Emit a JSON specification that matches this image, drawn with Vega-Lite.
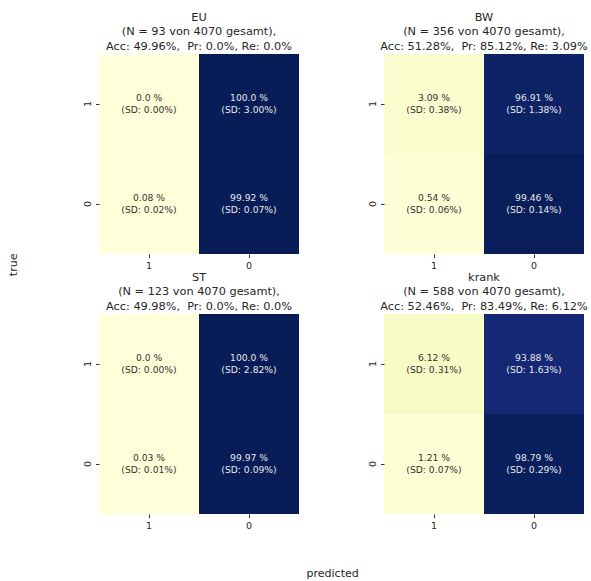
{
  "$schema": "https://vega.github.io/schema/vega-lite/v6.json",
  "padding": {"left": 7, "top": 11, "right": 5, "bottom": 5},
  "background": "white",
  "data": {"values": [
    {"group": "EU", "t": "1", "p": "1", "pct": 0.0, "label": "0.0 %\n(SD: 0.00%)"},
    {"group": "EU", "t": "1", "p": "0", "pct": 100.0, "label": "100.0 %\n(SD: 3.00%)"},
    {"group": "EU", "t": "0", "p": "1", "pct": 0.08, "label": "0.08 %\n(SD: 0.02%)"},
    {"group": "EU", "t": "0", "p": "0", "pct": 99.92, "label": "99.92 %\n(SD: 0.07%)"},
    {"group": "BW", "t": "1", "p": "1", "pct": 3.09, "label": "3.09 %\n(SD: 0.38%)"},
    {"group": "BW", "t": "1", "p": "0", "pct": 96.91, "label": "96.91 %\n(SD: 1.38%)"},
    {"group": "BW", "t": "0", "p": "1", "pct": 0.54, "label": "0.54 %\n(SD: 0.06%)"},
    {"group": "BW", "t": "0", "p": "0", "pct": 99.46, "label": "99.46 %\n(SD: 0.14%)"},
    {"group": "ST", "t": "1", "p": "1", "pct": 0.0, "label": "0.0 %\n(SD: 0.00%)"},
    {"group": "ST", "t": "1", "p": "0", "pct": 100.0, "label": "100.0 %\n(SD: 2.82%)"},
    {"group": "ST", "t": "0", "p": "1", "pct": 0.03, "label": "0.03 %\n(SD: 0.01%)"},
    {"group": "ST", "t": "0", "p": "0", "pct": 99.97, "label": "99.97 %\n(SD: 0.09%)"},
    {"group": "krank", "t": "1", "p": "1", "pct": 6.12, "label": "6.12 %\n(SD: 0.31%)"},
    {"group": "krank", "t": "1", "p": "0", "pct": 93.88, "label": "93.88 %\n(SD: 1.63%)"},
    {"group": "krank", "t": "0", "p": "1", "pct": 1.21, "label": "1.21 %\n(SD: 0.07%)"},
    {"group": "krank", "t": "0", "p": "0", "pct": 98.79, "label": "98.79 %\n(SD: 0.29%)"}
  ]},
  "config": {
    "font": "DejaVu Sans",
    "view": {"stroke": null},
    "axis": {"domain": false, "grid": false, "ticks": true, "tickColor": "#333333", "tickSize": 3.5, "labelFontSize": 9.5, "labelColor": "#262626", "labelPadding": 3, "title": null},
    "axisX": {"labelAngle": 0},
    "axisY": {"labelAngle": -90},
    "title": {"fontSize": 11.3, "fontWeight": "normal", "color": "#262626", "offset": 2, "lineHeight": 14.5, "anchor": "middle"}
  },
  "title": {"text": "predicted", "orient": "bottom", "fontSize": 11, "offset": 38, "dx": 35},
  "hconcat": [{
    "title": {"text": "true", "orient": "left", "fontSize": 11, "offset": 64, "dx": 6},
    "vconcat": [
      {"hconcat": [
        {"title": {"text": ["EU", "(N = 93 von 4070 gesamt),", "Acc: 49.96%,\u00a0 Pr: 0.0%, Re: 0.0%"]},
         "width": 200, "height": 200,
         "transform": [{"filter": "datum.group == 'EU'"}],
         "encoding": {"x": {"field": "p", "type": "nominal", "sort": ["1", "0"]}, "y": {"field": "t", "type": "nominal", "sort": ["1", "0"]}},
         "layer": [
           {"mark": "rect", "encoding": {"color": {"field": "pct", "type": "quantitative", "legend": null, "scale": {"domain": [0, 12.5, 25, 37.5, 50, 62.5, 75, 87.5, 100], "range": ["#ffffd9", "#edf8b1", "#c7e9b4", "#7fcdbb", "#41b6c4", "#1d91c0", "#225ea8", "#253494", "#081d58"]}}}},
           {"mark": {"type": "text", "lineBreak": "\n", "fontSize": 9.2, "lineHeight": 11.5, "dy": -6}, "encoding": {"text": {"field": "label"}, "color": {"condition": {"test": "datum.pct > 50", "value": "#e8e8e8"}, "value": "#333333"}}}
         ]},
        {"title": {"text": ["BW", "(N = 356 von 4070 gesamt),", "Acc: 51.28%,\u00a0 Pr: 85.12%, Re: 3.09%"]},
         "width": 200, "height": 200,
         "transform": [{"filter": "datum.group == 'BW'"}],
         "encoding": {"x": {"field": "p", "type": "nominal", "sort": ["1", "0"]}, "y": {"field": "t", "type": "nominal", "sort": ["1", "0"]}},
         "layer": [
           {"mark": "rect", "encoding": {"color": {"field": "pct", "type": "quantitative", "legend": null, "scale": {"domain": [0, 12.5, 25, 37.5, 50, 62.5, 75, 87.5, 100], "range": ["#ffffd9", "#edf8b1", "#c7e9b4", "#7fcdbb", "#41b6c4", "#1d91c0", "#225ea8", "#253494", "#081d58"]}}}},
           {"mark": {"type": "text", "lineBreak": "\n", "fontSize": 9.2, "lineHeight": 11.5, "dy": -6}, "encoding": {"text": {"field": "label"}, "color": {"condition": {"test": "datum.pct > 50", "value": "#e8e8e8"}, "value": "#333333"}}}
         ]}
      ], "spacing": 85, "bounds": "flush"},
      {"hconcat": [
        {"title": {"text": ["ST", "(N = 123 von 4070 gesamt),", "Acc: 49.98%,\u00a0 Pr: 0.0%, Re: 0.0%"]},
         "width": 200, "height": 200,
         "transform": [{"filter": "datum.group == 'ST'"}],
         "encoding": {"x": {"field": "p", "type": "nominal", "sort": ["1", "0"]}, "y": {"field": "t", "type": "nominal", "sort": ["1", "0"]}},
         "layer": [
           {"mark": "rect", "encoding": {"color": {"field": "pct", "type": "quantitative", "legend": null, "scale": {"domain": [0, 12.5, 25, 37.5, 50, 62.5, 75, 87.5, 100], "range": ["#ffffd9", "#edf8b1", "#c7e9b4", "#7fcdbb", "#41b6c4", "#1d91c0", "#225ea8", "#253494", "#081d58"]}}}},
           {"mark": {"type": "text", "lineBreak": "\n", "fontSize": 9.2, "lineHeight": 11.5, "dy": -6}, "encoding": {"text": {"field": "label"}, "color": {"condition": {"test": "datum.pct > 50", "value": "#e8e8e8"}, "value": "#333333"}}}
         ]},
        {"title": {"text": ["krank", "(N = 588 von 4070 gesamt),", "Acc: 52.46%,\u00a0 Pr: 83.49%, Re: 6.12%"]},
         "width": 200, "height": 200,
         "transform": [{"filter": "datum.group == 'krank'"}],
         "encoding": {"x": {"field": "p", "type": "nominal", "sort": ["1", "0"]}, "y": {"field": "t", "type": "nominal", "sort": ["1", "0"]}},
         "layer": [
           {"mark": "rect", "encoding": {"color": {"field": "pct", "type": "quantitative", "legend": null, "scale": {"domain": [0, 12.5, 25, 37.5, 50, 62.5, 75, 87.5, 100], "range": ["#ffffd9", "#edf8b1", "#c7e9b4", "#7fcdbb", "#41b6c4", "#1d91c0", "#225ea8", "#253494", "#081d58"]}}}},
           {"mark": {"type": "text", "lineBreak": "\n", "fontSize": 9.2, "lineHeight": 11.5, "dy": -6}, "encoding": {"text": {"field": "label"}, "color": {"condition": {"test": "datum.pct > 50", "value": "#e8e8e8"}, "value": "#333333"}}}
         ]}
      ], "spacing": 85, "bounds": "flush"}
    ],
    "spacing": 1
  }]
}
